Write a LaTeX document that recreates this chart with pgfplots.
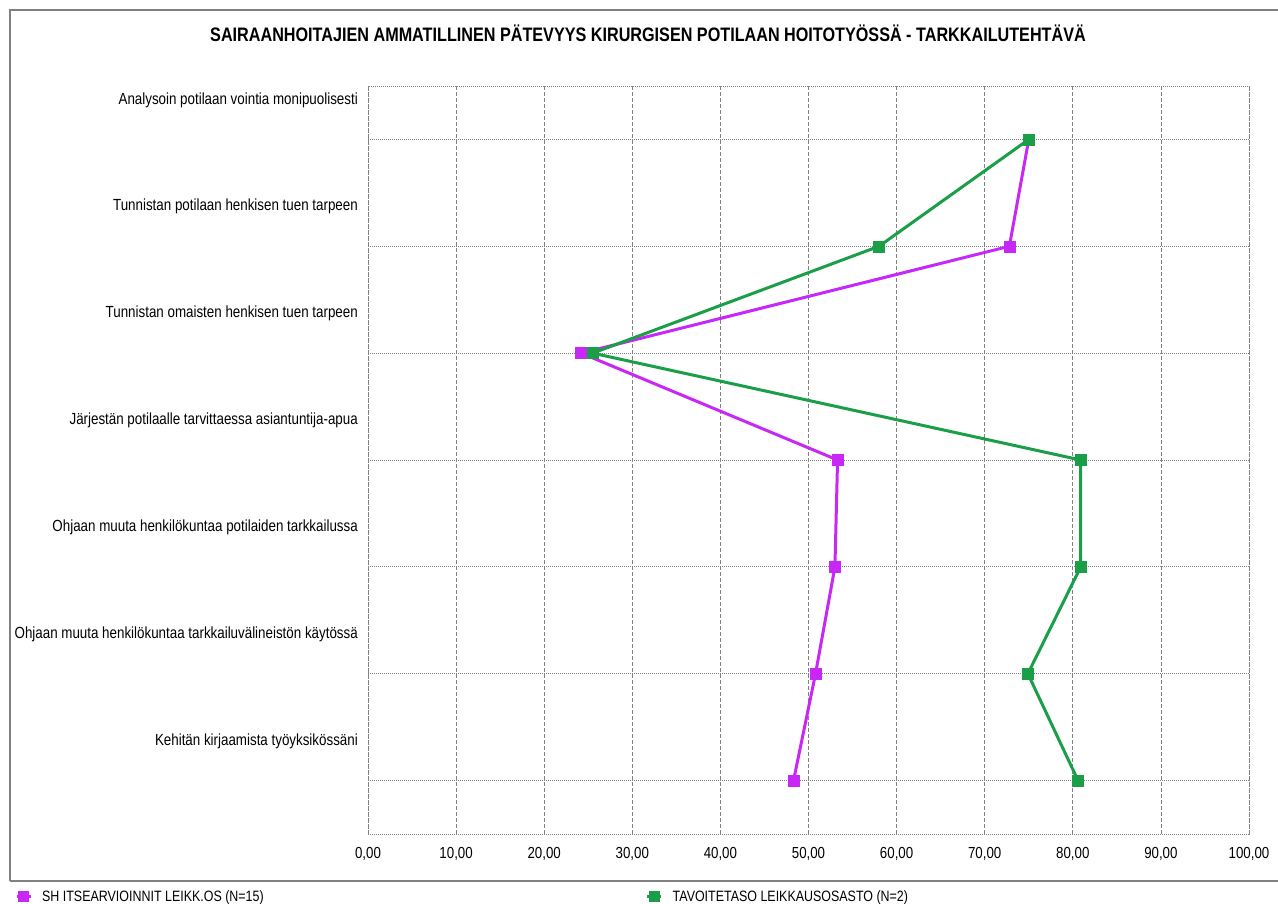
\documentclass[border=0pt]{standalone}
\usepackage{fontspec}
\setmainfont{Liberation Sans}[FakeStretch=0.83]
\usepackage{pgfplots}
\pgfplotsset{compat=1.18}

\definecolor{selfcol}{RGB}{200,40,245}
\definecolor{goalcol}{RGB}{26,158,72}
\definecolor{framecol}{RGB}{128,128,128}
\definecolor{gridcol}{RGB}{130,130,130}

\begin{document}
\begin{tikzpicture}
\useasboundingbox (0pt,0pt) rectangle (1278pt,903pt);

% outer frame and legend separator
\draw[framecol, line width=2pt] (9.5pt,22pt) -- (9.5pt,892.5pt) -- (1300pt,892.5pt);
\draw[framecol, line width=2pt] (9.5pt,22pt) -- (1300pt,22pt);

% title
\node[anchor=base, inner sep=0pt, font=\fontsize{19.5pt}{22pt}\selectfont\bfseries]
  at (648pt,861pt) {SAIRAANHOITAJIEN AMMATILLINEN PÄTEVYYS KIRURGISEN POTILAAN HOITOTYÖSSÄ - TARKKAILUTEHTÄVÄ};

\begin{axis}[
  at={(368pt,69pt)}, anchor=south west,
  scale only axis, width=881pt, height=748pt,
  xmin=0, xmax=100, ymin=-0.5, ymax=6.5, y dir=reverse,
  xtick={0,10,...,100},
  ytick={-0.37,0.63,1.63,2.63,3.63,4.63,5.63},
  yticklabels={
    Analysoin potilaan vointia monipuolisesti,
    Tunnistan potilaan henkisen tuen tarpeen,
    Tunnistan omaisten henkisen tuen tarpeen,
    Järjestän potilaalle tarvittaessa asiantuntija-apua,
    Ohjaan muuta henkilökuntaa potilaiden tarkkailussa,
    Ohjaan muuta henkilökuntaa tarkkailuvälineistön käytössä,
    Kehitän kirjaamista työyksikössäni},
  major tick length=0pt,
  xmajorgrids=true, ymajorgrids=false,
  x grid style={gridcol, dash pattern=on 4pt off 2pt, line width=0.8pt},
  extra y ticks={0,1,2,3,4,5,6},
  extra y tick labels={},
  extra y tick style={grid=major, major grid style={gridcol, dash pattern=on 1pt off 1pt, line width=0.8pt}},
  axis line style={gridcol, dash pattern=on 1pt off 1pt, line width=0.8pt},
  /pgf/number format/.cd, fixed, fixed zerofill, precision=2, use comma, 1000 sep={}, assume math mode=true,
  /pgfplots/.cd,
  xticklabel style={inner sep=0pt, anchor=north, yshift=-13pt, font=\fontsize{16pt}{18pt}\selectfont},
  yticklabel style={inner sep=0pt, anchor=east, xshift=-10pt, font=\fontsize{16.1pt}{18pt}\selectfont},
  legend columns=2,
  legend style={draw=none, fill=none, inner sep=0pt, at={(-0.4007,-0.0829)}, anchor=west,
    font=\fontsize{15pt}{18pt}\selectfont,
    nodes={inner sep=0pt, text depth=0pt},
    /tikz/column 1/.append style={column sep=10pt},
    /tikz/column 2/.append style={column sep=382pt},
    /tikz/column 3/.append style={column sep=10pt}},
  legend image code/.code={%
    \draw[#1, line width=3pt, mark=none] (0pt,0pt) -- (14pt,0pt);
    \draw[#1, line width=0.5pt, only marks, mark=square*, mark size=5pt] plot coordinates {(7pt,0pt)};},
  every axis plot/.append style={line width=3pt, mark=square*, mark size=5.5pt,
    mark options={solid, line width=0.5pt}},
]
\addplot[color=selfcol] coordinates {
  (75.0,0) (72.8,1) (24.2,2) (53.3,3) (53.0,4) (50.8,5) (48.3,6)};
\addlegendentry{SH ITSEARVIOINNIT LEIKK.OS (N=15)}
\addplot[color=goalcol] coordinates {
  (75.0,0) (58.0,1) (25.5,2) (80.9,3) (80.9,4) (74.9,5) (80.6,6)};
\addlegendentry{TAVOITETASO LEIKKAUSOSASTO (N=2)}
\end{axis}
\end{tikzpicture}
\end{document}
